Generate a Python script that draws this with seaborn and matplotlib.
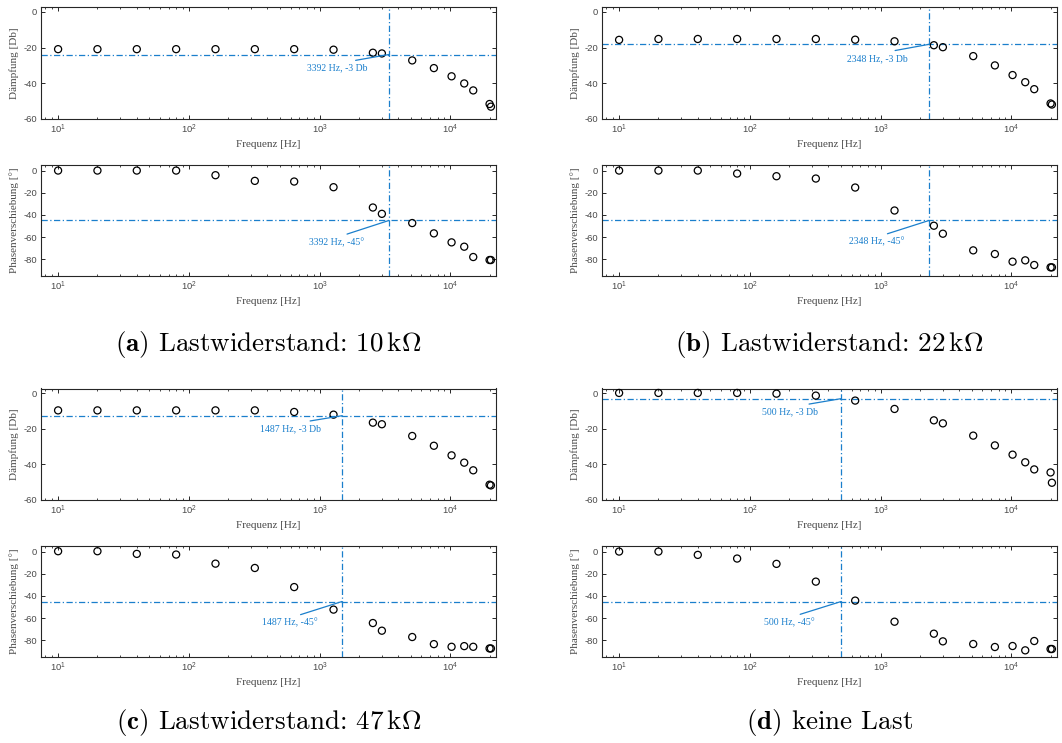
import matplotlib
matplotlib.use("Agg")
import matplotlib.pyplot as plt
import pandas as pd
import seaborn as sns
from matplotlib.ticker import LogLocator, FixedLocator, NullFormatter

# ---------------- data ----------------
freq_hz = [10, 20, 40, 80, 160, 320, 640, 1280, 2560, 3000, 5120, 7500,
           10240, 12800, 15000, 20000, 20480]

mag_a = [-20.9, -20.9, -20.9, -20.9, -20.9, -20.9, -20.9, -21.2, -22.9, -23.3,
         -27.2, -31.5, -36.1, -40.1, -44.0, -51.6, -53.1]
phase_a = [0.0, 0.0, 0.0, 0.0, -4.2, -9.3, -9.9, -15.0, -33.3, -39.0,
           -47.3, -56.6, -64.7, -68.6, -77.9, -80.6, -80.6]

mag_b = [-15.7, -15.2, -15.2, -15.2, -15.2, -15.2, -15.6, -16.5, -18.7, -19.8,
         -24.8, -30.0, -35.4, -39.4, -43.3, -51.3, -51.9]
phase_b = [0.0, 0.0, 0.0, -2.7, -5.1, -7.2, -15.3, -36.0, -49.7, -56.9,
           -71.9, -75.2, -82.1, -80.9, -85.1, -87.2, -87.2]

mag_c = [-9.6, -9.6, -9.6, -9.6, -9.6, -9.6, -10.5, -12.0, -16.5, -17.4,
         -24.0, -29.5, -34.9, -39.0, -43.3, -51.4, -51.8]
phase_c = [0.3, 0.3, -2.1, -2.7, -10.9, -14.8, -32.0, -52.3, -64.4, -71.3,
           -77.0, -83.4, -85.8, -85.2, -85.8, -87.3, -87.3]

mag_d = [0.2, 0.2, 0.2, 0.2, -0.2, -1.3, -4.1, -8.8, -15.2, -16.9,
         -23.8, -29.3, -34.5, -38.8, -42.8, -44.5, -50.3]
phase_d = [0.0, 0.0, -3.0, -6.3, -11.1, -27.1, -44.2, -63.2, -74.0, -80.9,
           -83.3, -86.0, -85.1, -89.0, -80.6, -87.8, -87.8]

cutoff_hz = [3392, 2348, 1487, 500]
mag_cut_db = [-23.9, -18.2, -12.6, -3.0]
phase_cut_deg = -45

caption_tags = ["(a)", "(b)", "(c)", "(d)"]
caption_texts = [r"Lastwiderstand: $10\,\mathrm{k}\Omega$",
                 r"Lastwiderstand: $22\,\mathrm{k}\Omega$",
                 r"Lastwiderstand: $47\,\mathrm{k}\Omega$",
                 "keine Last"]

mag_ticks = [0, -20, -40, -60]
phase_ticks = [0, -20, -40, -60, -80]

# ---------------- layout / style ----------------
W, H = 1062, 743
label_x_hz = [1360, 943, 597, 202]
mag_label_y = [-29.0, -23.5, -17.4, -7.9]
phase_label_y = [-60.2, -59.9, -59.8, -59.5]

col_left = [41, 602]
ax_w = 455
mag_rows = [(7, 119), (388.5, 500)]
phase_rows = [(165, 276), (546, 657)]
caption_y = [345, 722]
panel_pos = [(0, 0), (0, 1), (1, 0), (1, 1)]  # (row, col)

BLUE = "#1a7fcc"
SPINE = "#262626"
TICKC = "#4a4a4a"
SERIF = ["Liberation Serif", "DejaVu Serif"]

sns.set_theme(style="ticks")
plt.rcParams["font.family"] = ["Liberation Sans", "DejaVu Sans"]
plt.rcParams["axes.unicode_minus"] = False

fig = plt.figure(figsize=(W / 100, H / 100), dpi=100)
fig.patch.set_facecolor("white")


def make_ax(left, top, bottom):
    return fig.add_axes([left / W, 1 - bottom / H, ax_w / W, (bottom - top) / H])


def style_ax(ax, yticks, ylim, ylabel):
    ax.set_xscale("log")
    ax.set_xlim(7.4, 22400)
    ax.set_ylim(*ylim)
    ax.xaxis.set_major_locator(LogLocator(base=10, numticks=10))
    ax.xaxis.set_minor_locator(LogLocator(base=10, subs=range(2, 10), numticks=20))
    ax.xaxis.set_minor_formatter(NullFormatter())
    ax.yaxis.set_major_locator(FixedLocator(yticks))
    ax.tick_params(axis="both", which="major", direction="in", length=2.6, width=0.7,
                   top=True, right=True, labelsize=6.8, labelcolor=TICKC,
                   color=SPINE, pad=3)
    ax.tick_params(axis="x", which="minor", direction="in", length=1.6, width=0.6,
                   top=True, bottom=True, color=SPINE)
    for s in ax.spines.values():
        s.set_visible(True)
        s.set_color(SPINE)
        s.set_linewidth(0.8)
    ax.set_xlabel("Frequenz [Hz]", family=SERIF, fontsize=8, color=TICKC, labelpad=2.5)
    ax.set_ylabel(ylabel, family=SERIF, fontsize=8, color=TICKC, labelpad=3)
    ax.set_facecolor("white")


def draw(ax, y, cut_x, cut_y, lab_x, lab_y, text):
    df = pd.DataFrame({"f": freq_hz, "v": y})
    ax.axhline(cut_y, color=BLUE, lw=0.9, ls=(0, (5, 2, 1, 2)), zorder=1)
    ax.axvline(cut_x, color=BLUE, lw=0.9, ls=(0, (5, 2, 1, 2)), zorder=1)
    sns.scatterplot(data=df, x="f", y="v", ax=ax, marker="o", s=26,
                    facecolors="none", edgecolors="black", linewidths=0.9,
                    zorder=3, legend=False)
    ax.annotate(text, xy=(cut_x, cut_y), xytext=(lab_x, lab_y), ha="center", va="top",
                fontsize=7, family=SERIF, color=BLUE,
                arrowprops=dict(arrowstyle="-", color=BLUE, lw=0.9,
                                shrinkA=0, shrinkB=0, relpos=(0.5, 1.0)))


mags = [mag_a, mag_b, mag_c, mag_d]
phases = [phase_a, phase_b, phase_c, phase_d]

for i in range(4):
    r, c = panel_pos[i]
    left = col_left[c]
    ax_m = make_ax(left, *mag_rows[r])
    style_ax(ax_m, mag_ticks, (-60, 2.7), "Dämpfung [Db]")
    draw(ax_m, mags[i], cutoff_hz[i], mag_cut_db[i], label_x_hz[i], mag_label_y[i],
         f"{cutoff_hz[i]} Hz, -3 Db")

    ax_p = make_ax(left, *phase_rows[r])
    style_ax(ax_p, phase_ticks, (-95, 5), "Phasenverschiebung [°]")
    draw(ax_p, phases[i], cutoff_hz[i], phase_cut_deg, label_x_hz[i], phase_label_y[i],
         f"{cutoff_hz[i]} Hz, -45°")

    cx = (left + ax_w / 2) / W
    cy = 1 - caption_y[r] / H
    fig.text(cx, cy, r"$\mathbf{" + caption_tags[i] + r"}$ " + caption_texts[i],
             ha="center", va="center", fontsize=19.5, family="cmr10",
             math_fontfamily="cm", color="black")

fig.savefig("out.png", dpi=100, facecolor="white")
